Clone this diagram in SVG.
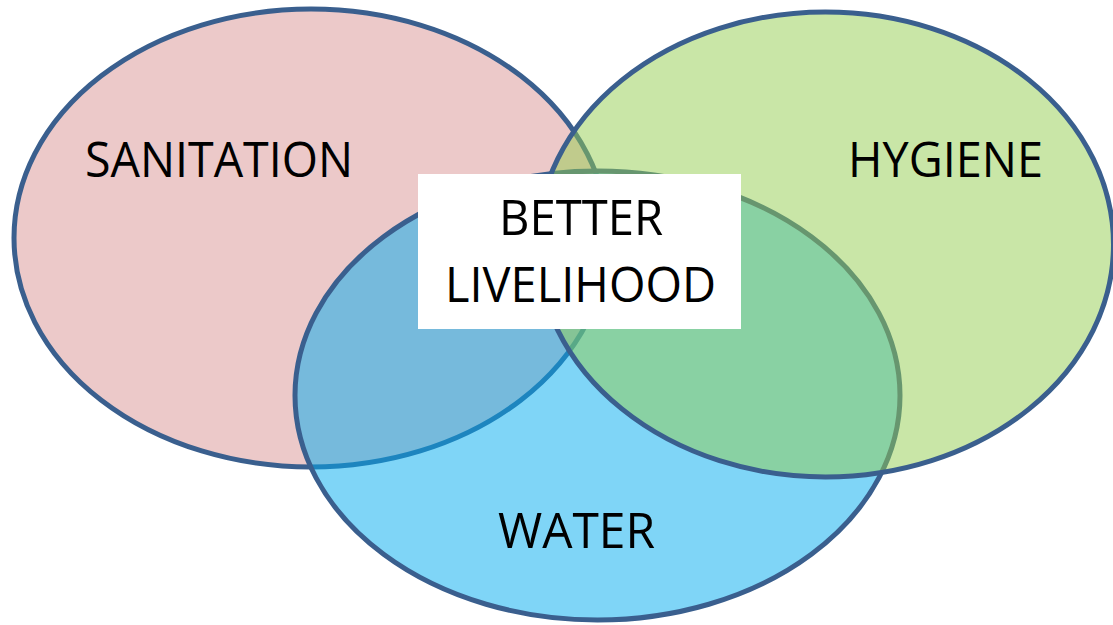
<svg xmlns="http://www.w3.org/2000/svg" width="1113" height="625" viewBox="0 0 1113 625">
<style>
.lbl{font-family:"Open Sans","Noto Sans","Liberation Sans",sans-serif;font-size:49px;fill:#000;}
.ring{stroke:#3a5f8e;stroke-width:5;}
</style>
<rect width="1113" height="625" fill="#ffffff"/>
<g id="sanitation">
<ellipse class="ring" cx="311" cy="238" rx="297" ry="229" fill="#ecc9c9"/>
</g>
<g id="water">
<ellipse cx="597.5" cy="395.5" rx="302.5" ry="224.5" fill="#00abef" fill-opacity="0.5"/>
<ellipse class="ring" cx="597.5" cy="395.5" rx="302.5" ry="224.5" fill="none"/>
</g>
<g id="hygiene">
<ellipse cx="825.5" cy="244.5" rx="288" ry="232.5" fill="#93cd4f" fill-opacity="0.5"/>
<ellipse class="ring" cx="825.5" cy="244.5" rx="288" ry="232.5" fill="none"/>
</g>
<g id="labels">
<text class="lbl" x="85" y="177" textLength="268" lengthAdjust="spacingAndGlyphs">SANITATION</text>
<text class="lbl" x="848" y="177" textLength="195" lengthAdjust="spacingAndGlyphs">HYGIENE</text>
<text class="lbl" x="498" y="548" textLength="157" lengthAdjust="spacingAndGlyphs">WATER</text>
</g>
<g id="better-livelihood">
<rect x="418" y="174" width="323" height="155" fill="#ffffff"/>
<text class="lbl" x="499" y="235" textLength="164" lengthAdjust="spacingAndGlyphs">BETTER</text>
<text class="lbl" x="445" y="302" textLength="271" lengthAdjust="spacingAndGlyphs">LIVELIHOOD</text>
</g>
<g id="connectors"/>
</svg>
